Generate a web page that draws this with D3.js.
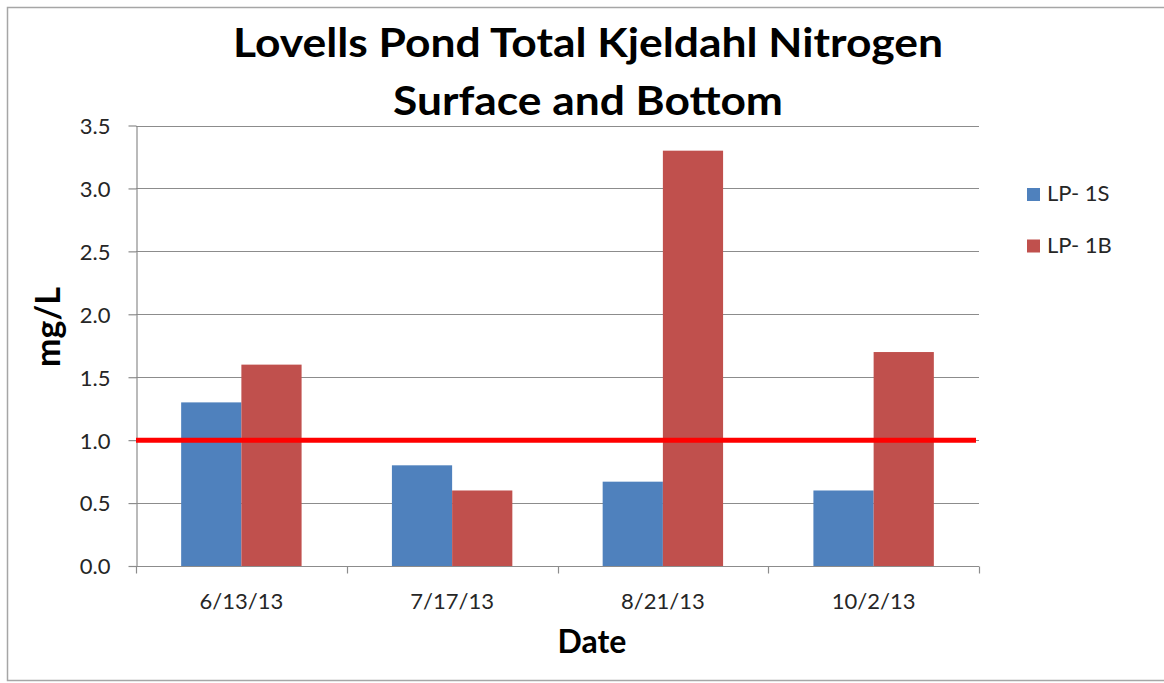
<!DOCTYPE html>
<html>
  <head>
    <meta charset="utf-8" />
    <script src="https://d3js.org/d3.v7.min.js"></script>
    <style>
      body { margin: 0; background: #fff; }
      text { font-family: Lato, "Open Sans", sans-serif; }
      .title { font-weight: bold; font-size: 41px; fill: #000; }
      .axis-title { font-weight: bold; fill: #000; }
      .tick-label { font-size: 22px; fill: #262626; }
      .grid { stroke: #8c8c8c; stroke-width: 1.2px; }
    </style>
  </head>
  <body>

    <svg id="chart" width="1164" height="683"></svg>

    <script>

      var dates = ["6/13/13", "7/17/13", "8/21/13", "10/2/13"];
      var seriesNames = ["LP-1S", "LP-1B"];
      var legendLabels = ["LP- 1S", "LP- 1B"];
      var surface = [1.3, 0.8, 0.67, 0.6];
      var bottom = [1.6, 0.6, 3.3, 1.7];
      var yTicks = [0, 0.5, 1.0, 1.5, 2.0, 2.5, 3.0, 3.5];
      var limit = [1.0];
      var colors = ["#4f81bd", "#c0504d"];

      var svg = d3.select("#chart");

      // outer frame
      svg.append("rect")
        .attr("x", 7.5)
        .attr("y", 7.5)
        .attr("width", 1170)
        .attr("height", 673)
        .attr("fill", "none")
        .attr("stroke", "#a6a6a6")
        .attr("stroke-width", 1.5);

      var plotLeft = 136, plotRight = 979, plotTop = 125.5, plotBase = 566;

      var x = d3.scaleBand()
        .domain(dates)
        .range([plotLeft, plotRight])
        .padding(0);

      var xSeries = d3.scaleBand()
        .domain(seriesNames)
        .range([0, x.bandwidth()])
        .paddingInner(0)
        .paddingOuter(0.75);

      var y = d3.scaleLinear()
        .domain([0, 3.5])
        .range([plotBase, plotTop]);

      // gridlines
      svg.selectAll(".grid")
        .data(yTicks.slice(1))
        .enter().append("line")
        .attr("class", "grid")
        .attr("x1", plotLeft)
        .attr("x2", plotRight)
        .attr("y1", function(d) { return Math.round(y(d)) + 0.5; })
        .attr("y2", function(d) { return Math.round(y(d)) + 0.5; });

      // y axis
      var yAxis = svg.append("g")
        .attr("transform", "translate(" + (plotLeft + 0.5) + ",0)")
        .call(d3.axisLeft(y).tickValues(yTicks).tickSize(8).tickSizeOuter(0).tickPadding(18)
          .tickFormat(d3.format(".1f")));
      yAxis.select(".domain").attr("stroke", "#8c8c8c").attr("stroke-width", 1.2);
      yAxis.selectAll(".tick line").attr("stroke", "#8c8c8c").attr("stroke-width", 1.2);
      yAxis.selectAll(".tick text")
        .attr("class", "tick-label")
        .attr("fill", null)
        .attr("dy", "0.36em");
      yAxis.attr("font-family", null).attr("font-size", null);

      // bars
      var rows = dates.map(function(d, i) {
        return { date: d, values: [surface[i], bottom[i]] };
      });

      var groups = svg.selectAll(".group")
        .data(rows)
        .enter().append("g")
        .attr("class", "group")
        .attr("transform", function(d) { return "translate(" + x(d.date) + ",0)"; });

      groups.selectAll("rect")
        .data(function(d) {
          return d.values.map(function(v, j) { return { name: seriesNames[j], value: v, k: j }; });
        })
        .enter().append("rect")
        .attr("x", function(d) { return xSeries(d.name); })
        .attr("y", function(d) { return y(d.value); })
        .attr("width", xSeries.bandwidth())
        .attr("height", function(d) { return plotBase - y(d.value); })
        .attr("fill", function(d) { return colors[d.k]; });

      // x axis
      var xAxis = svg.append("g")
        .attr("transform", "translate(0," + (plotBase + 0.5) + ")");
      xAxis.append("line")
        .attr("x1", plotLeft)
        .attr("x2", plotRight)
        .attr("stroke", "#8c8c8c")
        .attr("stroke-width", 1.2);
      xAxis.selectAll(".xtick")
        .data(dates.concat(["end"]))
        .enter().append("line")
        .attr("class", "xtick")
        .attr("x1", function(d, i) { return Math.round(plotLeft + i * x.step()) + 0.5; })
        .attr("x2", function(d, i) { return Math.round(plotLeft + i * x.step()) + 0.5; })
        .attr("y1", 0)
        .attr("y2", 7)
        .attr("stroke", "#8c8c8c")
        .attr("stroke-width", 1.2);
      xAxis.selectAll(".xlabel")
        .data(dates)
        .enter().append("text")
        .attr("class", "tick-label")
        .attr("x", function(d) { return x(d) + x.bandwidth() / 2; })
        .attr("y", 42)
        .attr("text-anchor", "middle")
        .text(function(d) { return d; });

      // threshold line
      svg.selectAll(".limit")
        .data(limit)
        .enter().append("line")
        .attr("class", "limit")
        .attr("x1", plotLeft)
        .attr("x2", 976)
        .attr("y1", function(d) { return y(d); })
        .attr("y2", function(d) { return y(d); })
        .attr("stroke", "#ff0000")
        .attr("stroke-width", 5);

      // titles
      svg.append("text")
        .attr("class", "title")
        .attr("x", 588)
        .attr("y", 57)
        .attr("text-anchor", "middle")
        .attr("textLength", 710)
        .attr("lengthAdjust", "spacingAndGlyphs")
        .text("Lovells Pond Total Kjeldahl Nitrogen");
      svg.append("text")
        .attr("class", "title")
        .attr("x", 588)
        .attr("y", 115)
        .attr("text-anchor", "middle")
        .attr("textLength", 390)
        .attr("lengthAdjust", "spacingAndGlyphs")
        .text("Surface and Bottom");

      svg.append("text")
        .attr("class", "axis-title")
        .attr("font-size", 32)
        .attr("x", 592)
        .attr("y", 653)
        .attr("text-anchor", "middle")
        .text("Date");

      svg.append("text")
        .attr("class", "axis-title")
        .attr("font-size", 34)
        .attr("transform", "translate(60,327) rotate(-90)")
        .attr("text-anchor", "middle")
        .text("mg/L");

      // legend
      var legend = svg.selectAll(".legend")
        .data(legendLabels)
        .enter().append("g")
        .attr("class", "legend")
        .attr("transform", function(d, i) { return "translate(1027," + (188 + i * 51.5) + ")"; });
      legend.append("rect")
        .attr("width", 13)
        .attr("height", 13)
        .attr("fill", function(d, i) { return colors[i]; });
      legend.append("text")
        .attr("class", "tick-label")
        .attr("x", 20)
        .attr("y", 13)
        .text(function(d) { return d; });

    </script>

  </body>
</html>
